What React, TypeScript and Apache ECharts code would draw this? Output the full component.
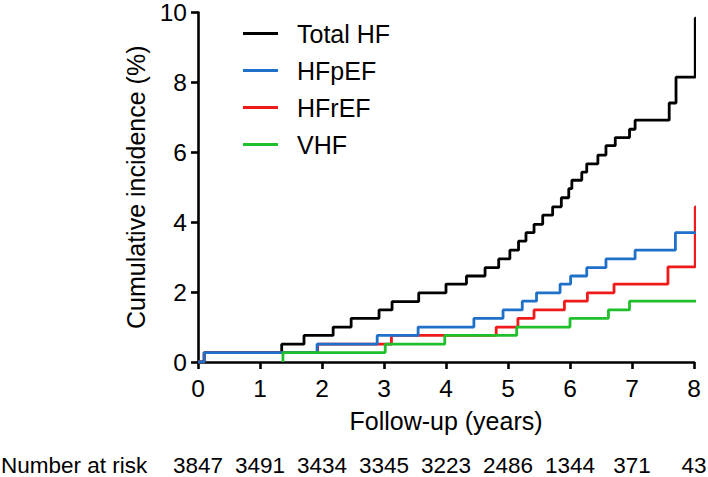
import React, { useEffect, useRef } from "react";
import * as echarts from "echarts";

const FONT = "'Liberation Sans', Arial, Helvetica, sans-serif";

// Step times (years) and cumulative incidence (%) reached at each step
const totalTimes = [0, 0.1, 1.35, 1.71, 2.18, 2.47, 2.92, 3.13, 3.56, 4.0, 4.33, 4.63, 4.85, 5.03, 5.17, 5.29, 5.42, 5.56, 5.72, 5.86, 5.98, 6.03, 6.19, 6.27, 6.45, 6.58, 6.73, 6.96, 7.05, 7.6, 7.71, 8.02, 8.1];
const totalValues = [0, 0.27, 0.51, 0.76, 1.0, 1.25, 1.49, 1.73, 1.98, 2.23, 2.46, 2.7, 2.95, 3.2, 3.46, 3.7, 3.94, 4.2, 4.44, 4.7, 4.96, 5.2, 5.43, 5.67, 5.92, 6.19, 6.42, 6.66, 6.92, 7.41, 8.15, 9.84, 9.84];

const hfpefTimes = [0, 0.1, 1.92, 2.89, 3.55, 4.45, 4.92, 5.23, 5.46, 5.84, 6.01, 6.27, 6.58, 7.05, 7.7, 8.1];
const hfpefValues = [0, 0.27, 0.51, 0.76, 1.0, 1.25, 1.49, 1.74, 1.98, 2.23, 2.46, 2.7, 2.95, 3.2, 3.7, 3.7];

const hfrefTimes = [0, 0.1, 1.93, 3.12, 4.81, 5.16, 5.42, 5.91, 6.28, 6.71, 7.58, 8.02, 8.1];
const hfrefValues = [0, 0.27, 0.51, 0.76, 1.0, 1.25, 1.49, 1.74, 1.98, 2.23, 2.72, 4.44, 4.44];

const vhfTimes = [1.37, 1.37, 3.02, 3.98, 5.14, 6.0, 6.62, 6.96, 8.1];
const vhfValues = [0, 0.27, 0.51, 0.76, 1.0, 1.25, 1.49, 1.74, 1.74];

const riskYears = [0, 1, 2, 3, 4, 5, 6, 7, 8];
const numberAtRisk = [3847, 3491, 3434, 3345, 3223, 2486, 1344, 371, 43];

const seriesNames = ["Total HF", "HFpEF", "HFrEF", "VHF"];
const seriesColors = ["#000000", "#1f70c8", "#f01a1a", "#1fc02c"];

const pairs = (t: number[], v: number[]) => t.map((x, i) => [x, v[i]]);

export default function App() {
  const ref = useRef<HTMLDivElement>(null);
  useEffect(() => {
    if (!ref.current) return;
    const chart = echarts.init(ref.current, null, { renderer: "svg" });
    const lineSeries = (name: string, color: string, data: number[][]) => ({
      name,
      type: "line",
      step: "end",
      data,
      symbol: "none",
      clip: false,
      lineStyle: { color, width: 2.8 },
      itemStyle: { color },
    });
    chart.setOption({
      animation: false,
      backgroundColor: "#ffffff",
      textStyle: { fontFamily: FONT },
      grid: { left: 198, right: 14, top: 12.5, bottom: 115, containLabel: false, outerBoundsMode: "none" },
      legend: {
        data: seriesNames,
        orient: "vertical",
        left: 243,
        top: 21,
        icon: "rect",
        itemWidth: 35,
        itemHeight: 3,
        itemGap: 12,
        padding: 0,
        textStyle: { fontSize: 25, color: "#000", fontFamily: FONT, padding: [0, 0, 0, 14] },
      },
      xAxis: [
        {
          type: "value",
          min: 0,
          max: 8,
          interval: 1,
          name: "Follow-up (years)",
          nameLocation: "middle",
          nameGap: 46,
          nameTextStyle: { fontSize: 25, color: "#000", fontFamily: FONT },
          axisLine: { lineStyle: { color: "#000", width: 2.6 } },
          axisTick: { length: 7, lineStyle: { color: "#000", width: 2.6 } },
          axisLabel: { fontSize: 24.5, color: "#000", margin: 14, fontFamily: FONT },
          splitLine: { show: false },
        },
        {
          type: "value",
          min: 0,
          max: 8,
          interval: 1,
          position: "bottom",
          offset: 85,
          axisLine: { show: false },
          axisTick: { show: false },
          splitLine: { show: false },
          axisLabel: {
            fontSize: 22.5,
            color: "#000",
            margin: 7,
            fontFamily: FONT,
            formatter: (v: number) => {
              const i = riskYears.indexOf(Math.round(v));
              return i >= 0 ? String(numberAtRisk[i]) : "";
            },
          },
        },
      ],
      yAxis: {
        type: "value",
        min: 0,
        max: 10,
        interval: 2,
        name: "Cumulative incidence (%)",
        nameLocation: "middle",
        nameGap: 46,
        nameTextStyle: { fontSize: 25, color: "#000", fontFamily: FONT },
        axisLine: { show: true, lineStyle: { color: "#000", width: 2.6 } },
        axisTick: { show: true, length: 7, lineStyle: { color: "#000", width: 2.6 } },
        axisLabel: { fontSize: 24.5, color: "#000", margin: 11, fontFamily: FONT },
        splitLine: { show: false },
      },
      graphic: [
        {
          type: "text",
          left: 1,
          top: 454,
          style: { text: "Number at risk", fontSize: 22.5, fill: "#000", fontFamily: FONT },
        },
      ],
      series: [
        lineSeries(seriesNames[0], seriesColors[0], pairs(totalTimes, totalValues)),
        lineSeries(seriesNames[2], seriesColors[2], pairs(hfrefTimes, hfrefValues)),
        lineSeries(seriesNames[1], seriesColors[1], pairs(hfpefTimes, hfpefValues)),
        lineSeries(seriesNames[3], seriesColors[3], pairs(vhfTimes, vhfValues)),
      ],
    });
    return () => chart.dispose();
  }, []);
  return (
    <div
      ref={ref}
      style={{ position: "absolute", left: 0, top: 0, width: 708, height: 477 }}
    />
  );
}
